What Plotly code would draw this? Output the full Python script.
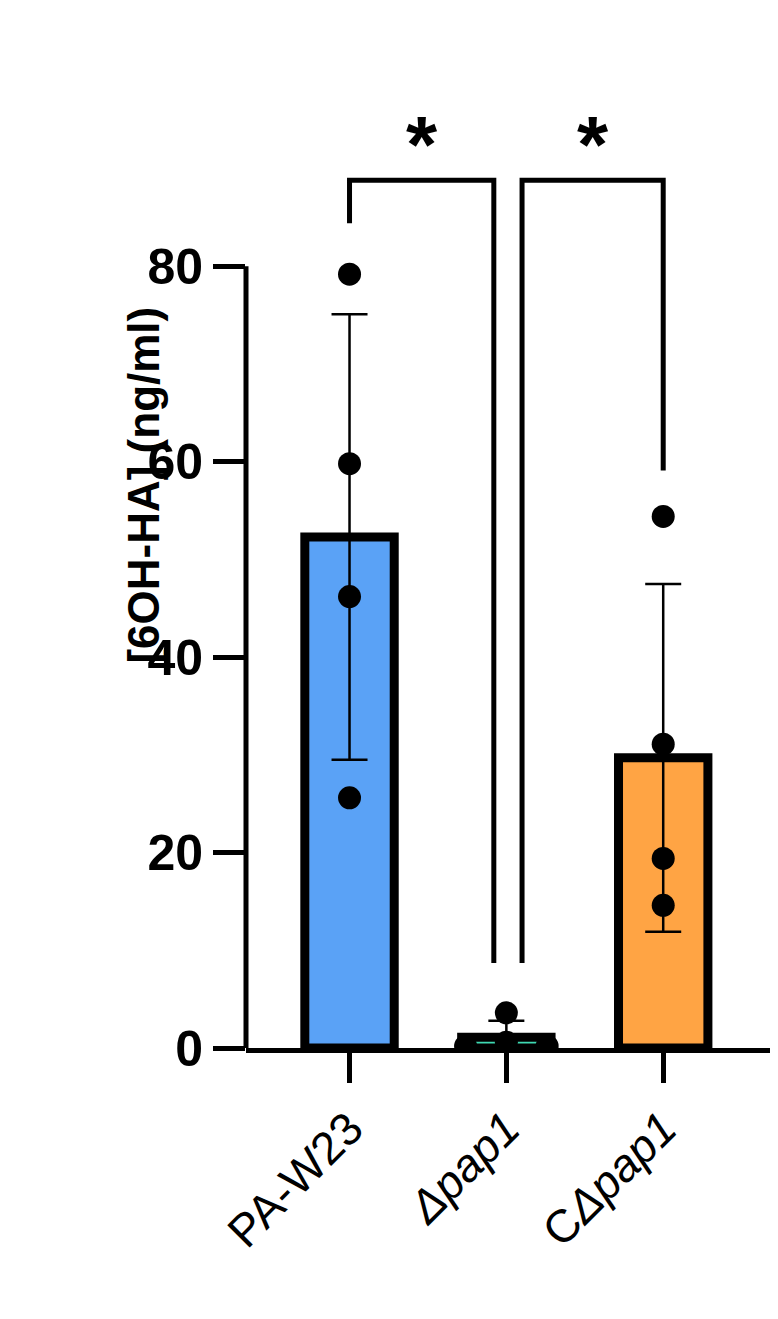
import plotly.graph_objects as go

categories = ["PA-W23", "<i>Δpap1</i>", "C<i>Δpap1</i>"]
means = [52.3, 1.1, 29.7]
sds = [22.8, 1.7, 17.8]
points = [[79.2, 59.8, 46.2, 25.6], [0.2, 0.6, 3.6, 0.2], [54.4, 31.1, 19.4, 14.6]]
jitter = [[0, 0, 0, 0], [-0.26, 0, 0, 0.26], [0, 0, 0, 0]]
colors = ["#5AA2F6", "#3FD9B2", "#FFA444"]
# brackets: (x_left, y_left_end, x_right, y_right_end, top)
brackets = [(0, 84.4, 0.92, 8.7, 88.8), (1.1, 8.7, 2.0, 59.1, 88.8)]
star_y = 92.5
y_axis_top = 80

xs = list(range(len(categories)))
fig = go.Figure()
fig.add_trace(go.Bar(x=xs, y=means, width=0.57, marker=dict(color=colors, line=dict(color="black", width=9))))
fig.add_trace(go.Scatter(x=xs, y=means, mode="markers", marker=dict(size=1, color="rgba(0,0,0,0)"),
                         error_y=dict(type="data", array=sds, color="black", thickness=2.5, width=18)))
px, py = [], []
for i, (pts, jit) in enumerate(zip(points, jitter)):
    for v, j in zip(pts, jit):
        px.append(i + j); py.append(v)
fig.add_trace(go.Scatter(x=px, y=py, mode="markers", marker=dict(size=23, color="black")))

for xl, yl, xr, yr, top in brackets:
    fig.add_shape(type="path", path=f"M {xl},{yl} L {xl},{top} L {xr},{top} L {xr},{yr}",
                  line=dict(color="black", width=5), xref="x", yref="y")
    fig.add_annotation(x=(xl + xr) / 2, y=star_y, text="<b>*</b>", showarrow=False,
                       font=dict(size=80, color="black", family="Liberation Sans"), yanchor="middle")

fig.add_shape(type="line", xref="paper", yref="y", x0=0, x1=0, y0=0, y1=y_axis_top,
              line=dict(color="black", width=5))
fig.add_annotation(xref="paper", yref="paper", x=-0.245, y=0.6, text="<b>[6OH-HA] (ng/ml)</b>",
                   textangle=-90, showarrow=False, font=dict(size=44, color="black"))

fig.update_layout(
    width=778, height=1319, plot_bgcolor="white", paper_bgcolor="white", showlegend=False,
    margin=dict(l=238, r=13, t=102, b=279, autoexpand=False),
    font=dict(family="Liberation Sans, Arial", color="black"),
    xaxis=dict(range=[-0.66, 2.70], tickvals=xs, ticktext=categories, tickangle=-45, automargin=False,
               showline=True, linewidth=5, linecolor="black", ticks="outside", ticklen=30, tickwidth=5,
               tickcolor="black", tickfont=dict(size=46), showgrid=False, zeroline=False),
    yaxis=dict(range=[0, 96], tickvals=[0, 20, 40, 60, 80], ticktext=["<b>0</b>", "<b>20</b>", "<b>40</b>", "<b>60</b>", "<b>80</b>"],
               showline=False, ticks="outside", ticklen=32, tickwidth=5, tickcolor="black", automargin=False,
               tickfont=dict(size=50), showgrid=False, zeroline=False),
)
fig.write_html("out.html")
